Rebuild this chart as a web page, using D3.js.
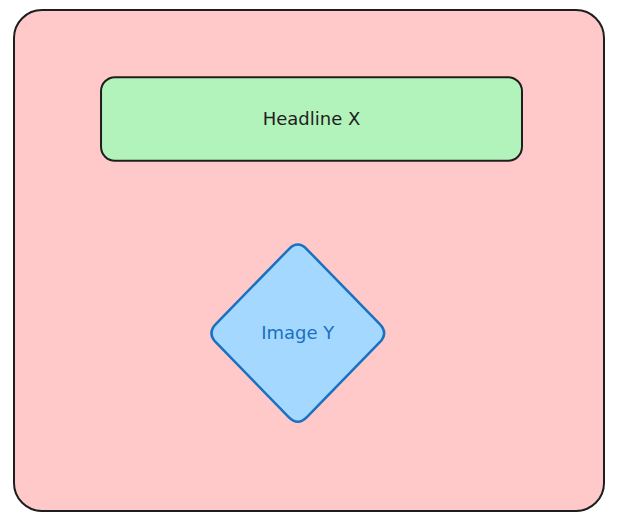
<!DOCTYPE html>
<html>
<head>
<meta charset="utf-8">
<script src="https://cdn.jsdelivr.net/npm/d3@7"></script>
<style>
  html, body { margin: 0; padding: 0; background: #fff; }
</style>
</head>
<body>
<div id="chart"></div>
<script>
// shapes of the sketch
const boxNames = ['frame', 'headline'];
const boxLabels = ['', 'Headline X'];
const boxFills = ['#ffc9c9', '#b2f2bb'];
const diamondLabels = ['Image Y'];

const width = 633, height = 521;

const svg = d3.select('#chart').append('svg')
  .attr('width', width)
  .attr('height', height);

// layout in a 0..100 space, mapped through scales
const x = d3.scaleLinear().domain([0, 100]).range([14, 604]);
const y = d3.scaleLinear().domain([0, 100]).range([10, 511]);

const boxes = [
  { x0: 0, y0: 0, x1: 100, y1: 100, r: 28 },
  { x0: 14.75, y0: 13.4, x1: 86.1, y1: 30.1, r: 14 }
].map((b, i) => Object.assign(b, { name: boxNames[i], label: boxLabels[i], fill: boxFills[i] }));

const g = svg.append('g');

g.selectAll('rect.box')
  .data(boxes)
  .enter().append('rect')
  .attr('class', 'box')
  .attr('x', d => x(d.x0))
  .attr('y', d => y(d.y0))
  .attr('width', d => x(d.x1) - x(d.x0))
  .attr('height', d => y(d.y1) - y(d.y0))
  .attr('rx', d => d.r)
  .attr('fill', d => d.fill)
  .attr('stroke', '#1e1e1e')
  .attr('stroke-width', 2);

g.selectAll('text.box')
  .data(boxes.filter(d => d.label))
  .enter().append('text')
  .attr('class', 'box')
  .attr('x', d => (x(d.x0) + x(d.x1)) / 2)
  .attr('y', d => (y(d.y0) + y(d.y1)) / 2)
  .attr('text-anchor', 'middle')
  .attr('dominant-baseline', 'central')
  .attr('font-family', '"Comic Sans MS", "DejaVu Sans", sans-serif')
  .attr('font-size', 18)
  .attr('fill', '#1e1e1e')
  .text(d => d.label);

// diamond
const diamonds = [{ cx: 48.1, cy: 64.5, hw: 15.4, hh: 18.6, label: diamondLabels[0] }];

function diamondPath(d) {
  const cx = x(d.cx), cy = y(d.cy);
  const w = x(d.cx + d.hw) - cx, h = y(d.cy + d.hh) - cy;
  const k = 0.1; // corner rounding fraction
  const pts = [[cx, cy - h], [cx + w, cy], [cx, cy + h], [cx - w, cy]];
  const p = d3.path();
  pts.forEach((pt, i) => {
    const prev = pts[(i + 3) % 4], next = pts[(i + 1) % 4];
    const a = [pt[0] + (prev[0] - pt[0]) * k, pt[1] + (prev[1] - pt[1]) * k];
    const b = [pt[0] + (next[0] - pt[0]) * k, pt[1] + (next[1] - pt[1]) * k];
    if (i === 0) p.moveTo(a[0], a[1]); else p.lineTo(a[0], a[1]);
    p.quadraticCurveTo(pt[0], pt[1], b[0], b[1]);
  });
  p.closePath();
  return p.toString();
}

g.selectAll('path.diamond')
  .data(diamonds)
  .enter().append('path')
  .attr('class', 'diamond')
  .attr('d', diamondPath)
  .attr('fill', '#a5d8ff')
  .attr('stroke', '#1971c2')
  .attr('stroke-width', 2.5);

g.selectAll('text.diamond')
  .data(diamonds)
  .enter().append('text')
  .attr('class', 'diamond')
  .attr('x', d => x(d.cx))
  .attr('y', d => y(d.cy) - 1)
  .attr('text-anchor', 'middle')
  .attr('dominant-baseline', 'central')
  .attr('font-family', '"Comic Sans MS", "DejaVu Sans", sans-serif')
  .attr('font-size', 18)
  .attr('fill', '#1971c2')
  .text(d => d.label);
</script>
</body>
</html>
